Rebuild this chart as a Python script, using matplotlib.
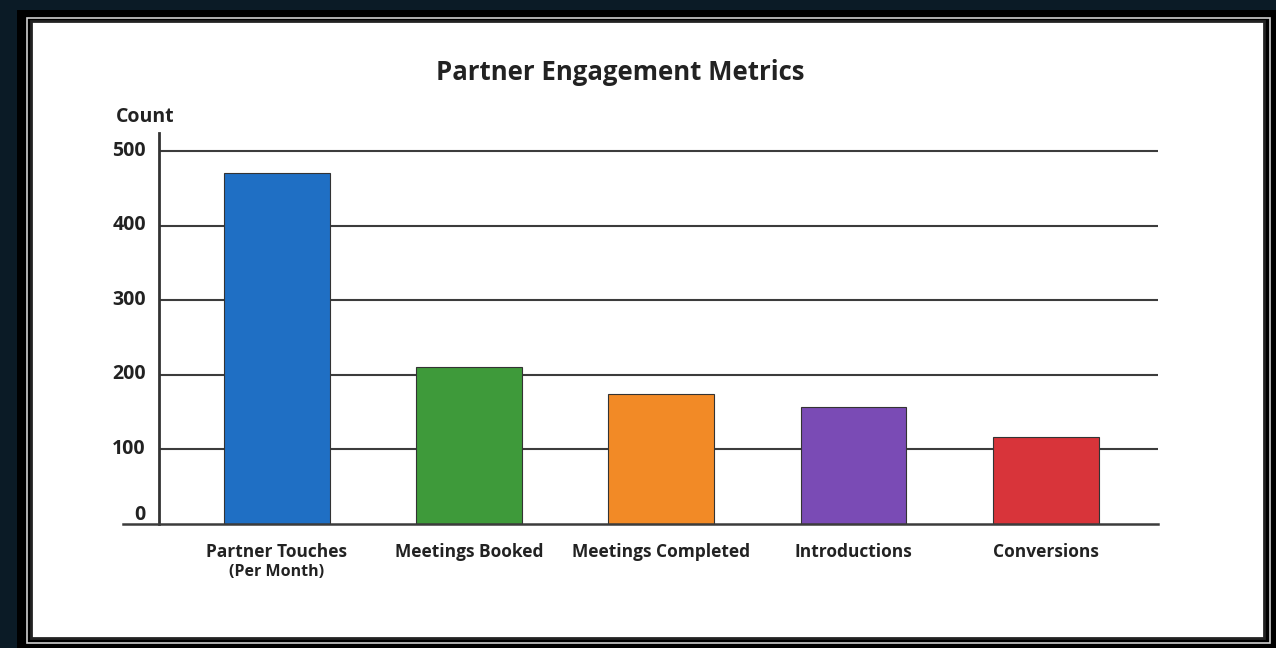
import matplotlib.pyplot as plt
from matplotlib.patches import Rectangle
from matplotlib.transforms import ScaledTranslation

categories = ["Partner Touches", "Meetings Booked", "Meetings Completed", "Introductions", "Conversions"]
sub_labels = ["(Per Month)", "", "", "", ""]
counts = [471, 210, 174, 157, 116]
colors = ["#1f6fc4", "#3e9a3a", "#f28a26", "#7a4bb5", "#d8343a"]
yticks = [0, 100, 200, 300, 400, 500]

plt.rcParams['font.family'] = ['Open Sans', 'DejaVu Sans']

W, H = 1276, 648
fig = plt.figure(figsize=(W / 100, H / 100), dpi=100, facecolor="#0b1b26")

# picture frame around the white panel
fig.patches.append(Rectangle((17 / W, 0), 1 - 17 / W, 1 - 10 / H, transform=fig.transFigure,
                             facecolor="black", edgecolor="none", zorder=-3))
fig.patches.append(Rectangle((27 / W, 5 / H), 1243 / W, 625 / H, transform=fig.transFigure,
                             facecolor="none", edgecolor="#d0d0d0", linewidth=1.2, zorder=-2))
fig.patches.append(Rectangle((31 / W, 10 / H), 1233 / W, 617 / H, transform=fig.transFigure,
                             facecolor="white", edgecolor="#222222", linewidth=2, zorder=-1))

ax = fig.add_axes([159 / W, 1 - 524 / H, 999 / W, 391 / H])
ax.set_zorder(5)
ax.set_facecolor("none")
x = list(range(len(categories)))
ax.bar(x, counts, width=0.55, color=colors, edgecolor="#333333", linewidth=0.8, zorder=3)

ax.set_xlim(-0.612, 4.584)
ax.set_ylim(0, 524)
ax.set_yticks(yticks)
ax.set_yticklabels([str(v) for v in yticks], fontsize=14, fontweight="bold", color="#222222")
ax.tick_params(axis="y", length=0, pad=9.5)
ax.tick_params(axis="x", length=0, pad=14)
ax.set_xticks(x)
ax.set_xticklabels(categories, fontsize=12.5, fontweight="bold", color="#222222")

# tick labels sit a little above their lines, the zero clearly above the axis
for v, lab in zip(yticks, ax.get_yticklabels()):
    dy = 8 if v == 0 else 2
    lab.set_transform(lab.get_transform() + ScaledTranslation(0, dy / 72, fig.dpi_scale_trans))

for xi, s in zip(x, sub_labels):
    if s:
        ax.text(xi, -64, s, ha="center", va="center", fontsize=11.5, fontweight="bold", color="#222222")

for v in yticks[1:]:
    ax.axhline(v, color="#3c3c3c", linewidth=1.5, zorder=1)
ax.plot([-0.8, 4.584], [0, 0], color="#3c3c3c", linewidth=1.8, clip_on=False, zorder=4)

for side in ["top", "right", "bottom"]:
    ax.spines[side].set_visible(False)
ax.spines["left"].set_color("#333333")
ax.spines["left"].set_linewidth(2)

fig.text(620 / W, 1 - 73 / H, "Partner Engagement Metrics", ha="center", va="center",
         fontsize=18.5, fontweight="bold", color="#222222")
fig.text(145 / W, 1 - 117 / H, "Count", ha="center", va="center",
         fontsize=14, fontweight="bold", color="#222222")

fig.savefig("out.png", dpi=100, facecolor=fig.get_facecolor())
